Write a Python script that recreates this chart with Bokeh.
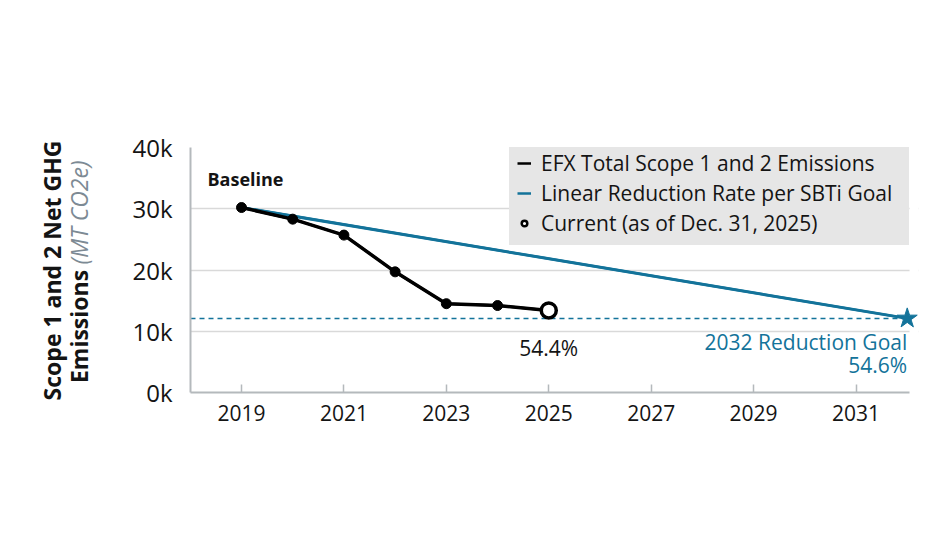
import math
from bokeh.plotting import figure
from bokeh.layouts import row
from bokeh.models import (ColumnDataSource, Label, Legend, LegendItem, FixedTicker,
                          Range1d, CustomJSTickFormatter, BoxAnnotation)
from bokeh.embed import file_html
from bokeh.resources import INLINE
from bokeh.core.properties import value

# ---- data ----
years = [2019, 2020, 2021, 2022, 2023, 2024, 2025]
emissions = [30200, 28300, 25700, 19700, 14500, 14200, 13400]
goal_years = [2019, 2032]
goal_values = [30200, 12100]
goal_level = 12100
x_ticks = [2019, 2021, 2023, 2025, 2027, 2029, 2031]
y_ticks = [0, 10000, 20000, 30000, 40000]
y_grid = [10000, 20000, 30000]
current_pct = "54.4%"
goal_pct = "54.6%"
title_line1 = "Scope 1 and 2 Net GHG"
title_line2a = "Emissions"
title_line2b = "(MT CO2e)"

BLUE = "#13739a"
FONT = "Open Sans"
GRID = "#d9d9d9"
AXIS = "#b4b9bc"
TXT = "#141414"

LEFT_W = 100
X0 = 2018.004       # left edge of plot area
X_END = 2032.045    # visible end of axis / grid
X1 = 2032.22        # frame end (room for the star)

p = figure(width=934 - LEFT_W, height=534, output_backend="svg", toolbar_location=None,
           x_range=Range1d(X0, X1), y_range=Range1d(0, 40000),
           min_border_left=190 - LEFT_W, min_border_right=16, min_border_top=147,
           min_border_bottom=142)
p.frame_align = False
p.outline_line_color = None
p.background_fill_color = "white"

# axes
p.xaxis.ticker = FixedTicker(ticks=x_ticks)
p.xaxis.bounds = (X0, X_END)
p.yaxis.ticker = FixedTicker(ticks=y_ticks)
p.yaxis.formatter = CustomJSTickFormatter(code="return (tick/1000).toFixed(0) + 'k';")
for ax in (p.xaxis, p.yaxis):
    ax.axis_line_color = AXIS
    ax.axis_line_width = 2
    ax.major_label_text_font = FONT
    ax.major_label_text_color = TXT
    ax.minor_tick_line_color = None
p.xaxis.major_tick_line_color = AXIS
p.xaxis.major_tick_line_width = 1.5
p.xaxis.major_tick_in = 8
p.xaxis.major_tick_out = 0
p.xaxis.major_label_text_font_size = "21px"
p.xaxis.major_label_standoff = 12
p.yaxis.major_tick_line_color = None
p.yaxis.major_label_text_font_size = "24px"
p.yaxis.major_label_standoff = 12

p.xgrid.grid_line_color = None
p.ygrid.ticker = FixedTicker(ticks=y_grid)
p.ygrid.grid_line_color = GRID
p.ygrid.grid_line_width = 1.5

# mask the grid beyond the plot's right edge
p.add_layout(BoxAnnotation(left=X_END, fill_color="white", fill_alpha=1,
                           line_color=None, level="underlay"))

# dashed goal level
p.line(x=[X0, goal_years[-1]], y=[goal_level, goal_level],
       line_color=BLUE, line_width=1.5, line_dash="5 4")

# legend-only renderers (drawn underneath the visible ones)
src = ColumnDataSource(dict(x=years, y=emissions))
lg1 = p.line(x="x", y="y", source=src, line_color="black", line_width=2.5)
lg2 = p.line(x=goal_years, y=goal_values, line_color=BLUE, line_width=2.5)

# goal line
p.line(x=goal_years, y=goal_values, line_color=BLUE, line_width=3)
p.scatter(x=[goal_years[-1]], y=[goal_values[-1]], marker="star", size=21,
          fill_color=BLUE, line_color=BLUE, level="overlay")

# emissions
p.line(x="x", y="y", source=src, line_color="black", line_width=3.5)
p.scatter(x=years[:-1], y=emissions[:-1], size=10, fill_color="black", line_color="black")
lg3 = p.scatter(x=[years[-1]], y=[emissions[-1]], size=9, fill_color="white",
                line_color="black", line_width=2.5)
p.scatter(x=[years[-1]], y=[emissions[-1]], size=15, fill_color="white",
          line_color="black", line_width=3.5)

legend = Legend(items=[
    LegendItem(label="EFX Total Scope 1 and 2 Emissions", renderers=[lg1]),
    LegendItem(label="Linear Reduction Rate per SBTi Goal", renderers=[lg2]),
    LegendItem(label="Current (as of Dec. 31, 2025)", renderers=[lg3]),
], location=(319, 147))
legend.label_text_font = FONT
legend.label_text_font_size = "21px"
legend.label_text_color = TXT
legend.background_fill_color = "#e6e6e6"
legend.background_fill_alpha = 1
legend.border_line_alpha = 0
legend.margin = 0
legend.padding = 8
legend.spacing = 2
legend.glyph_width = 14
legend.glyph_height = 26
legend.label_height = 26
legend.label_width = 360
legend.label_standoff = 10
p.add_layout(legend)

# annotations
p.add_layout(Label(x=years[0], y=emissions[0], x_offset=-34, y_offset=29,
                   text="Baseline", text_font=FONT, text_font_size="18px",
                   text_font_style="bold", text_baseline="middle", text_align="left",
                   text_color=TXT))
p.add_layout(Label(x=years[-1], y=emissions[-1], y_offset=-38, text=current_pct,
                   text_font=FONT, text_font_size="21px",
                   text_baseline="middle", text_align="center", text_color=TXT))
p.add_layout(Label(x=goal_years[-1], y=goal_values[-1], y_offset=-24,
                   text="2032 Reduction Goal", text_font=FONT, text_font_size="21px",
                   text_baseline="middle", text_align="right", text_color=BLUE))
p.add_layout(Label(x=goal_years[-1], y=goal_values[-1], y_offset=-47,
                   text=goal_pct, text_font=FONT, text_font_size="21px",
                   text_baseline="middle", text_align="right", text_color=BLUE))

# ---- left panel with the y-axis title (mixed styles) ----
t = figure(width=LEFT_W, height=534, output_backend="svg", toolbar_location=None,
           x_range=Range1d(0, LEFT_W), y_range=Range1d(0, 534),
           x_axis_type=None, y_axis_type=None, min_border=0)
t.frame_align = False
t.outline_line_color = None
t.grid.grid_line_color = None
t.text(x=[51], y=[534 - 270], text=[title_line1], angle=math.pi / 2,
       text_font=value(FONT), text_font_size="23px", text_font_style="bold",
       text_align="center", text_baseline="middle", text_color=TXT)
t.text(x=[78], y=[534 - 326], text=[title_line2a], angle=math.pi / 2,
       text_font=value(FONT), text_font_size="23px", text_font_style="bold",
       text_align="center", text_baseline="middle", text_color=TXT)
t.text(x=[78], y=[534 - 212], text=[title_line2b], angle=math.pi / 2,
       text_font=value(FONT), text_font_size="23px", text_font_style="italic",
       text_align="center", text_baseline="middle", text_color="#7d8a94")

layout = row(t, p, spacing=0)
open("out.html", "w").write(file_html(layout, INLINE))
